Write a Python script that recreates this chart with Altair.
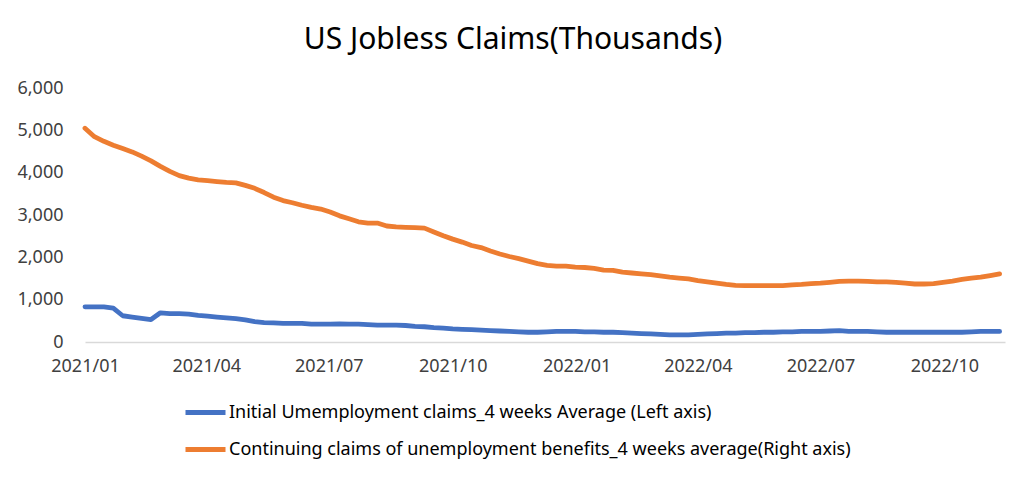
import altair as alt
import pandas as pd

start_date = "2021-01-01"
n_weeks = 98

initial_claims = [
    830, 830, 830, 800, 620, 590, 560, 530, 690, 670,
    670, 660, 630, 610, 590, 570, 550, 520, 480, 460,
    450, 440, 440, 440, 420, 420, 420, 430, 420, 420,
    410, 400, 400, 400, 390, 370, 360, 340, 330, 310,
    300, 290, 280, 270, 260, 250, 240, 230, 230, 240,
    250, 250, 250, 240, 240, 230, 230, 220, 210, 200,
    190, 180, 170, 170, 170, 180, 190, 200, 210, 210,
    220, 220, 230, 230, 240, 240, 250, 250, 250, 260,
    270, 250, 250, 250, 240, 230, 230, 230, 230, 230,
    230, 230, 230, 230, 240, 250, 250, 250,
]

continuing_claims = [
    5050, 4850, 4740, 4650, 4570, 4490, 4390, 4280, 4150, 4030,
    3930, 3870, 3830, 3810, 3790, 3770, 3760, 3700, 3630, 3530,
    3420, 3340, 3290, 3230, 3180, 3140, 3070, 2980, 2910, 2840,
    2810, 2810, 2740, 2720, 2710, 2700, 2690, 2600, 2510, 2430,
    2360, 2280, 2230, 2150, 2080, 2020, 1970, 1910, 1850, 1810,
    1790, 1790, 1770, 1760, 1740, 1700, 1690, 1650, 1630, 1610,
    1590, 1560, 1530, 1510, 1490, 1450, 1420, 1390, 1360, 1340,
    1330, 1330, 1330, 1330, 1330, 1350, 1360, 1380, 1390, 1410,
    1430, 1440, 1440, 1430, 1420, 1420, 1410, 1390, 1370, 1370,
    1380, 1410, 1440, 1480, 1510, 1530, 1570, 1610,
]

series_names = [
    "Initial Umemployment claims_4 weeks Average (Left axis)",
    "Continuing claims of unemployment benefits_4 weeks average(Right axis)",
]
series_colors = ["#4472C4", "#ED7D31"]

x_tick_dates = ["2021-01-01", "2021-04-01", "2021-07-01", "2021-10-01",
                "2022-01-01", "2022-04-01", "2022-07-01", "2022-10-01"]
y_ticks = [0, 1000, 2000, 3000, 4000, 5000, 6000]

dates = pd.date_range(start_date, periods=n_weeks, freq="7D")
df = pd.concat([
    pd.DataFrame({"date": dates, "value": initial_claims, "series": series_names[0]}),
    pd.DataFrame({"date": dates, "value": continuing_claims, "series": series_names[1]}),
])

FONT = "Noto Sans"

chart = alt.Chart(df).mark_line(strokeWidth=4.8, strokeJoin="round", strokeCap="round").encode(
    x=alt.X(
        "date:T",
        title=None,
        scale=alt.Scale(domain=[start_date, "2022-11-15"]),
        axis=alt.Axis(
            values=[pd.Timestamp(d).isoformat() for d in x_tick_dates],
            format="%Y/%m",
            grid=False,
            ticks=False,
            domainColor="#d9d9d9",
            domainWidth=1.5,
            labelFontSize=18,
            labelColor="#404040",
            labelFont=FONT,
            labelPadding=15,
            labelFlush=False,
        ),
    ),
    y=alt.Y(
        "value:Q",
        title=None,
        scale=alt.Scale(domain=[0, 6000]),
        axis=alt.Axis(
            values=y_ticks,
            format=",.0f",
            grid=False,
            ticks=False,
            domain=False,
            labelFontSize=18,
            labelColor="#404040",
            labelFont=FONT,
            labelPadding=22,
        ),
    ),
    color=alt.Color(
        "series:N",
        scale=alt.Scale(domain=series_names, range=series_colors),
        sort=series_names,
        legend=alt.Legend(
            title=None,
            orient="none",
            legendX=98,
            legendY=302,
            symbolType="stroke",
            symbolSize=1600,
            symbolStrokeWidth=4.8,
            labelFontSize=18,
            labelFont=FONT,
            labelColor="#000000",
            labelLimit=800,
            labelOffset=1,
            rowPadding=4,
        ),
    ),
).properties(
    width=920,
    height=254,
    title=alt.TitleParams(
        "US Jobless Claims(Thousands)",
        fontSize=30,
        font=FONT,
        fontWeight="normal",
        color="#000000",
        anchor="middle",
        dx=-32,
        offset=24,
    ),
    padding={"left": 77, "top": 80, "right": 15, "bottom": 130},
    autosize=alt.AutoSizeParams(type="none"),
).configure_view(stroke=None)

chart.save("out.html", embed_options={"renderer": "svg", "actions": False})
